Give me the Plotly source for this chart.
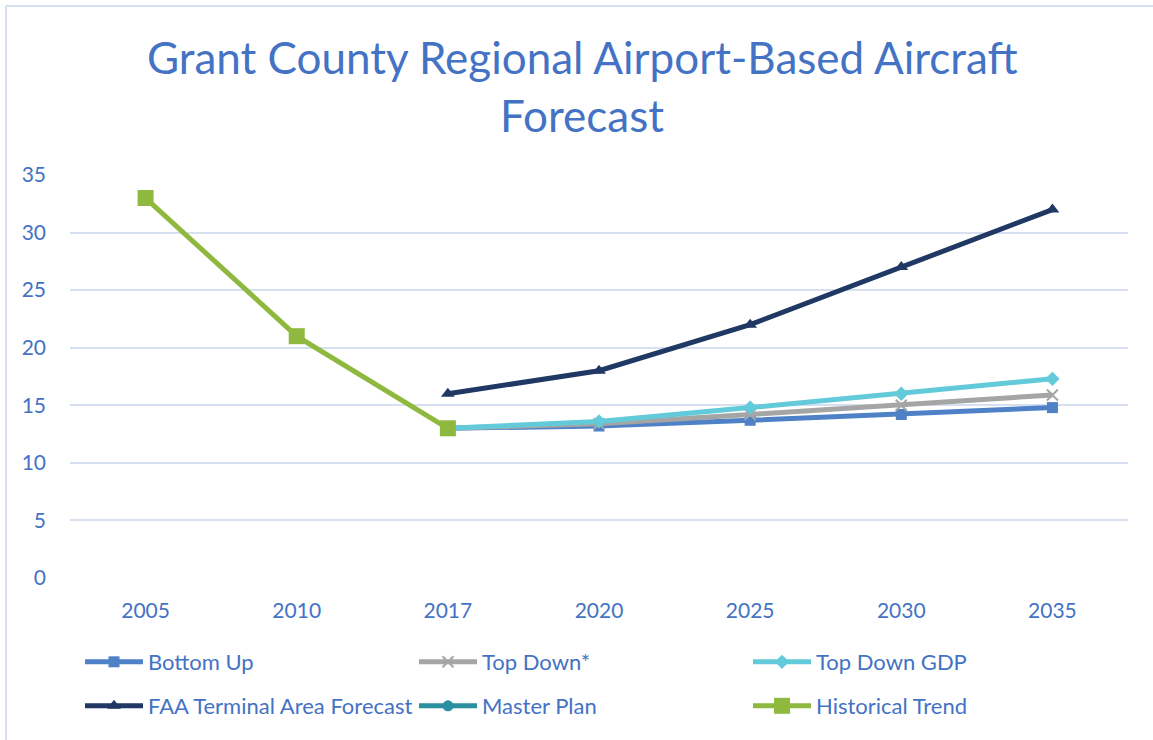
import plotly.graph_objects as go

years = ["2005", "2010", "2017", "2020", "2025", "2030", "2035"]
bottom_up = [None, None, 13, 13.2, 13.7, 14.2, 14.8]
top_down = [None, None, 13, 13.4, 14.2, 15.0, 15.9]
top_down_gdp = [None, None, 13, 13.6, 14.8, 16.0, 17.3]
faa_taf = [None, None, 16, 18, 22, 27, 32]
master_plan = [None, None, None, None, None, None, None]
historical = [33, 21, 13, None, None, None, None]

TXT = "#4472C4"
FONT = "Lato"

series = [
    ("Bottom Up", bottom_up, "#4F81C7", "square", 11, "legend"),
    ("Top Down*", top_down, "#A5A5A5", "x-thin-open", 11, "legend"),
    ("Top Down GDP", top_down_gdp, "#62CAD9", "diamond", 11, "legend"),
    ("FAA Terminal Area Forecast", faa_taf, "#1F3864", "triangle-up", 12, "legend2"),
    ("Master Plan", master_plan, "#2A8FA0", "circle", 11, "legend2"),
    ("Historical Trend", historical, "#8FB83E", "square", 16, "legend2"),
]

fig = go.Figure()
for name, vals, color, sym, size, lg in series:
    marker = dict(symbol=sym, size=size, color=color)
    if sym == "x-thin-open":
        marker["line"] = dict(color=color, width=2)
    fig.add_trace(go.Scatter(
        x=years, y=vals, name=name, mode="lines+markers",
        line=dict(color=color, width=5),
        marker=marker, legend=lg,
    ))

W, H = 1153, 740
L, R, T, B = 70, 25, 175, 162
pw, ph = W - L - R, H - T - B

def px_x(x):
    return (x - L) / pw

def px_y(y):
    return (H - B - y) / ph

title_font = dict(family=FONT, size=44, color=TXT)
BORDER = "#D6E0F0"
LEG_FONT = 22
EW = 334 - 58 - 15

fig.update_layout(
    width=W, height=H,
    margin=dict(l=L, r=R, t=T, b=B, autoexpand=False),
    paper_bgcolor="white", plot_bgcolor="white",
    font=dict(family=FONT, color=TXT, size=20),
    xaxis=dict(type="category", categoryorder="array", categoryarray=years,
               range=[-0.5, len(years) - 0.5],
               showgrid=False, showline=False, zeroline=False, ticks="",
               tickfont=dict(size=21, color=TXT), ticklabelstandoff=18),
    yaxis=dict(range=[0, 35], dtick=5, showgrid=True, gridcolor=BORDER,
               gridwidth=2, zeroline=False, showline=False, ticks="",
               tickfont=dict(size=21, color=TXT), ticklabelstandoff=23),
    legend=dict(orientation="h", x=px_x(80), xanchor="left",
                y=px_y(662), yanchor="middle", itemwidth=58,
                entrywidth=EW, entrywidthmode="pixels",
                font=dict(size=LEG_FONT, color=TXT), bgcolor="rgba(0,0,0,0)"),
    legend2=dict(orientation="h", x=px_x(80), xanchor="left",
                 y=px_y(706), yanchor="middle", itemwidth=58,
                 entrywidth=EW, entrywidthmode="pixels",
                 font=dict(size=LEG_FONT, color=TXT), bgcolor="rgba(0,0,0,0)"),
    annotations=[
        dict(text="Grant County Regional Airport-Based Aircraft", xref="paper", yref="paper",
             x=px_x(582), y=px_y(57), xanchor="center", yanchor="middle",
             showarrow=False, font=title_font),
        dict(text="Forecast", xref="paper", yref="paper",
             x=px_x(582), y=px_y(115), xanchor="center", yanchor="middle",
             showarrow=False, font=title_font),
    ],
    shapes=[
        dict(type="line", xref="paper", yref="paper",
             x0=px_x(6), x1=px_x(6), y0=px_y(H), y1=px_y(6),
             line=dict(color=BORDER, width=2), layer="below"),
        dict(type="line", xref="paper", yref="paper",
             x0=px_x(6), x1=px_x(W), y0=px_y(6), y1=px_y(6),
             line=dict(color=BORDER, width=2), layer="below"),
    ],
    showlegend=True,
)

fig.write_html("out.html", config={"displayModeBar": False},
               post_script="document.body.style.margin='0';document.body.style.overflow='hidden';")
